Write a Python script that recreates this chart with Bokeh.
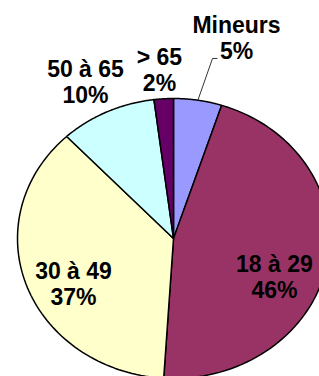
import numpy as np
from bokeh.plotting import figure
from bokeh.models import ColumnDataSource, Range1d
from bokeh.core.properties import value
from bokeh.embed import file_html
from bokeh.resources import INLINE

# ---- data ----
categories = ["Mineurs", "18 à 29", "30 à 49", "50 à 65", "> 65"]
shares = [5, 46, 37, 10, 2]
colors = ["#9999FF", "#993366", "#FFFFCC", "#CCFFFF", "#660066"]

# ---- layout (pie in unit coordinates, ellipse scaled by axis ranges) ----
RX, RY = 156.0, 140.0          # pixel radii
CX, CY = 173.0, 238.0          # center in plot pixels (from left / from top)
W, H = 319, 376
label_pos = [(0.404, 1.43), (0.647, -0.275), (-0.641, -0.325),
             (-0.564, 1.118), (-0.090, 1.207)]

p = figure(width=W, height=H, output_backend="svg", toolbar_location=None,
           x_range=Range1d(-CX / RX, (W - CX) / RX),
           y_range=Range1d(-(H - CY) / RY, CY / RY),
           min_border=0)
p.axis.visible = False
p.grid.visible = False
p.outline_line_color = None
p.background_fill_color = "white"
p.border_fill_color = "white"

total = float(sum(shares))
fr = np.cumsum([0] + shares) / total
xs, ys = [], []
for i in range(len(shares)):
    # clockwise from top
    t = np.linspace(fr[i], fr[i + 1], 80) * 2 * np.pi
    xs.append([0.0] + list(np.sin(t)))
    ys.append([0.0] + list(np.cos(t)))

src = ColumnDataSource(dict(xs=xs, ys=ys, color=colors, cat=categories))
p.patches("xs", "ys", source=src, fill_color="color", line_color="black",
          line_width=1.5)

# leader line for the first slice
mid0 = (fr[0] + fr[1]) / 2 * 2 * np.pi
p.line([np.sin(mid0), 0.25, 0.282], [np.cos(mid0), 1.286, 1.286],
       line_color="#333333", line_width=1)

labels = [f"{c}\n{s}%" for c, s in zip(categories, shares)]
lsrc = ColumnDataSource(dict(x=[a for a, b in label_pos], y=[b for a, b in label_pos],
                             text=labels))
p.text("x", "y", text="text", source=lsrc, text_align="center",
       text_baseline="middle", text_font=value("Liberation Sans"),
       text_font_style="bold", text_font_size="23px", text_color="black",
       text_line_height=1.0)

open("out.html", "w").write(file_html(p, INLINE))
